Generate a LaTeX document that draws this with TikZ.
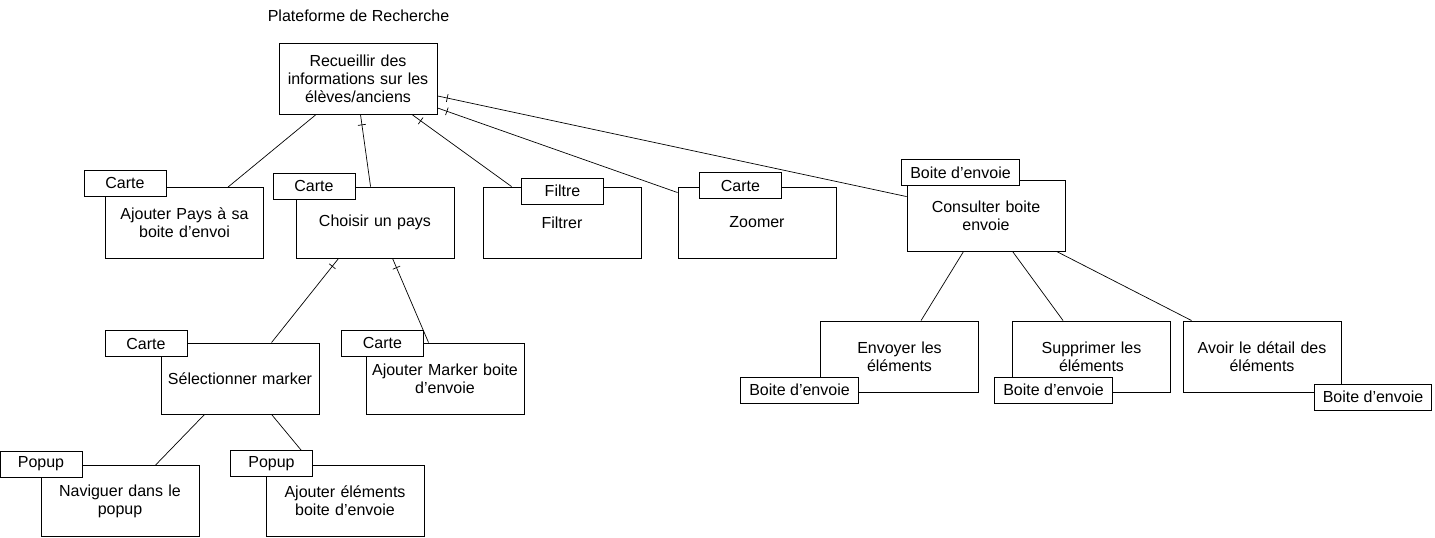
\documentclass[tikz,border=0pt]{standalone}
\usepackage{fontspec}
\setmainfont{Liberation Sans}
\usetikzlibrary{decorations.markings}
\begin{document}
\begin{tikzpicture}[x=1pt,y=-1pt,
  every node/.style={font=\fontsize{16pt}{18pt}\selectfont},
  box/.style={draw,fill=white,line width=0.9pt,minimum width=158pt,minimum height=71pt,inner sep=0pt,align=center,text width=152pt},
  tab/.style={draw,fill=white,line width=0.9pt,minimum width=82pt,minimum height=26pt,inner xsep=8.5pt,inner ysep=0pt},
  conn/.style={line width=0.7pt},
  ticked/.style={conn,postaction={decorate},decoration={markings,mark=at position 10pt with {\draw[line width=0.7pt] (0,-4pt)--(0,4pt);}}}
]
\useasboundingbox (0,0) rectangle (1435,538);
\node (title) at (358.5,16) {Plateforme de Recherche};
% boxes
\node[box] (root) at (358,79) {Recueillir des\\informations sur les\\élèves/anciens};
\node[box] (a1) at (184.5,223) {Ajouter Pays à sa\\boite d’envoi};
\node[tab] (t1) at (125,183) {Carte};
\node[box] (a2) at (375,222.5) {Choisir un pays};
\node[tab] (t2) at (314,186) {Carte};
\node[box] (a3) at (562,222.5) {Filtrer};
\node[tab] (t3) at (562.5,191) {Filtre};
\node[box] (a4) at (757,222.5) {Zoomer};
\node[tab] (t4) at (740.5,185.5) {Carte};
\node[box] (a5) at (986,215.5) {Consulter boite\\envoie};
\node[tab] (t5) at (960.5,172.5) {Boite d’envoie};
\node[box] (b1) at (240,378.5) {Sélectionner marker};
\node[tab] (tb1) at (146,343.5) {Carte};
\node[box] (b2) at (445,378.5) {Ajouter Marker boite\\d’envoie};
\node[tab] (tb2) at (382.5,343) {Carte};
\node[box] (c1) at (120,501) {Naviguer dans le\\popup};
\node[tab] (tc1) at (41,464) {Popup};
\node[box] (c2) at (345,501) {Ajouter éléments\\boite d’envoie};
\node[tab] (tc2) at (271.5,463.5) {Popup};
\node[box] (d1) at (899.5,356.5) {Envoyer les\\éléments};
\node[tab] (td1) at (799.5,390) {Boite d’envoie};
\node[box] (d2) at (1091.5,356.5) {Supprimer les\\éléments};
\node[tab] (td2) at (1053.5,390) {Boite d’envoie};
\node[box] (d3) at (1262,356.5) {Avoir le détail des\\éléments};
\node[tab] (td3) at (1373,397) {Boite d’envoie};
% connectors
\draw[conn] ([xshift=37pt]root.south west) -- ([xshift=123pt]a1.north west);
\draw[ticked] ([xshift=82pt]root.south west) -- ([xshift=75pt]a2.north west);
\draw[ticked] ([xshift=134pt]root.south west) -- ([xshift=29pt]a3.north west);
\draw[ticked] ([yshift=7pt]root.south east) -- ([yshift=-6pt]a4.north west);
\draw[ticked] ([yshift=19pt]root.south east) -- ([yshift=-17pt]a5.north west);
\draw[ticked] ([xshift=43pt]a2.south west) -- ([xshift=111pt]b1.north west);
\draw[ticked] ([xshift=97pt]a2.south west) -- ([xshift=63pt]b2.north west);
\draw[conn] ([xshift=44pt]b1.south west) -- ([xshift=115pt]c1.north west);
\draw[conn] ([xshift=111pt]b1.south west) -- ([xshift=71pt]tc2.north west);
\draw[conn] ([xshift=57pt]a5.south west) -- ([xshift=101pt]d1.north west);
\draw[conn] ([xshift=106pt]a5.south west) -- ([xshift=51pt]d2.north west);
\draw[conn] ([xshift=150pt]a5.south west) -- ([xshift=9pt]d3.north west);
\end{tikzpicture}
\end{document}
